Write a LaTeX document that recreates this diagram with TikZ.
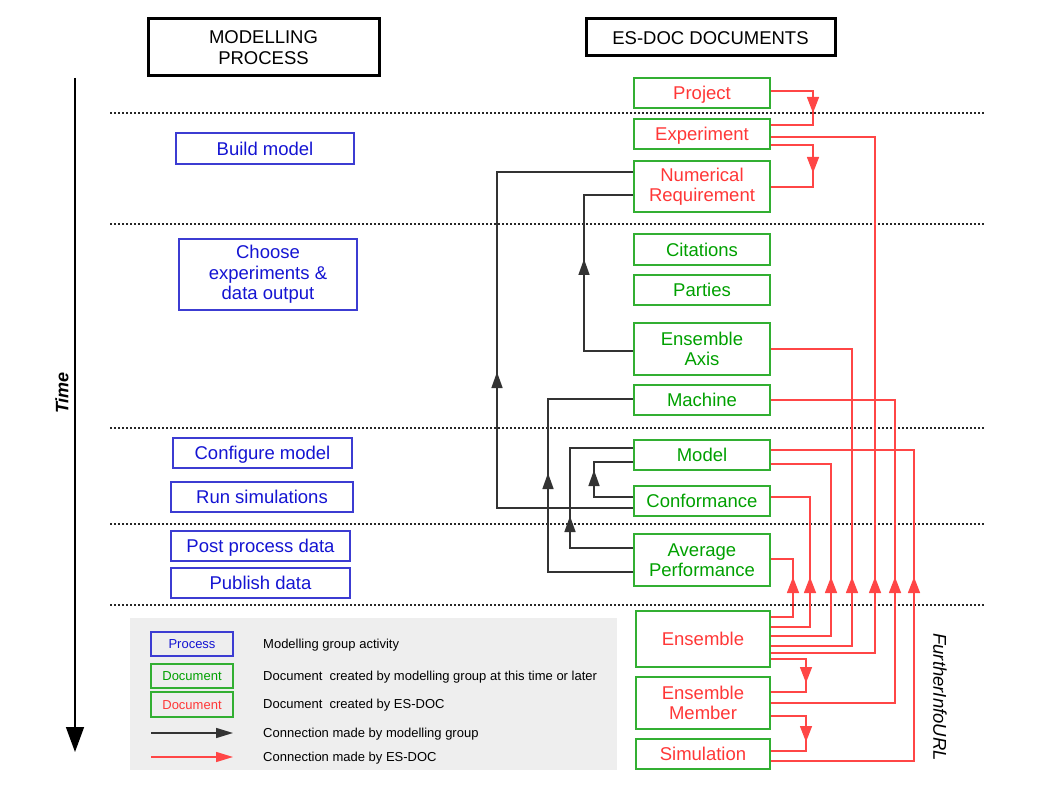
\documentclass[tikz,border=0pt]{standalone}
\usepackage{fontspec}
\setmainfont{Liberation Sans}
\usetikzlibrary{arrows.meta}
\definecolor{procblue}{RGB}{20,20,210}
\definecolor{procborder}{RGB}{60,60,210}
\definecolor{docgreen}{RGB}{0,160,0}
\definecolor{docborder}{RGB}{50,175,50}
\definecolor{docred}{RGB}{255,55,55}
\definecolor{linered}{RGB}{255,70,70}
\definecolor{legendgray}{RGB}{238,238,238}
\begin{document}
\begin{tikzpicture}[x=1pt,y=-1pt,
  bigfont/.style={font=\fontsize{18.5}{20.5}\selectfont},
  smallfont/.style={font=\fontsize{13}{15}\selectfont},
  oneline/.style={text height=13.3pt,text depth=0pt},
  smallline/.style={text height=9.4pt,text depth=0pt},
  titlebox/.style={draw=black,line width=3pt,inner sep=0pt,align=center,bigfont},
  procbox/.style={draw=procborder,line width=1.3pt,inner sep=0pt,align=center,text=procblue,bigfont},
  docbox/.style={draw=docborder,line width=1.5pt,inner sep=0pt,align=center,text=docgreen,bigfont,minimum width=136pt},
  esbox/.style={docbox,text=docred},
  redc/.style={draw=linered,line width=1.4pt},
  blackc/.style={draw=black!80,line width=1.4pt},
  redtip/.style={redc,-{Triangle[width=12pt,length=16pt]}},
  blacktip/.style={blackc,-{Triangle[width=11pt,length=16pt]}},
  sep/.style={draw=black!85,line width=1.1pt,dash pattern=on 2pt off 2pt},
  legtext/.style={smallfont,anchor=west,inner sep=0pt}
]
\useasboundingbox (0,0) rectangle (1058,794);

% titles
\node[titlebox,minimum width=231pt,minimum height=57pt] (tproc) at (263.5,47.5) {MODELLING\\PROCESS};
\node[titlebox,oneline,minimum width=249pt,minimum height=37pt] (tdoc) at (710.5,37.5) {ES-DOC DOCUMENTS};

% time axis
\coordinate (tstart) at (75,78);
\coordinate (tend) at (75,752);
\draw[line width=1.5pt,-{Triangle[width=18pt,length=25pt]}] (tstart) -- (tend);
\node[rotate=90,font=\fontsize{18}{20}\selectfont\bfseries\itshape] (time) at (62,393) {Time};

% separators
\foreach \yy in {113,224,428,524,605}
  \draw[sep] (110,\yy) -- (985,\yy);

% process boxes
\node[procbox,oneline,minimum width=178pt,minimum height=31pt] (build) at (265,148.5) {Build model};
\node[procbox,minimum width=178pt,minimum height=71pt] (choose) at (268,274.5) {Choose\\experiments \&\\data output};
\node[procbox,oneline,minimum width=179pt,minimum height=30pt] (config) at (262.5,453) {Configure model};
\node[procbox,oneline,minimum width=182pt,minimum height=30pt] (run) at (262,497) {Run simulations};
\node[procbox,oneline,minimum width=179pt,minimum height=30pt] (post) at (260.5,546) {Post process data};
\node[procbox,oneline,minimum width=179pt,minimum height=30pt] (publish) at (260.5,583) {Publish data};

% document boxes
\node[esbox,oneline,minimum height=30pt] (project) at (702,93) {Project};
\node[esbox,oneline,minimum height=30pt] (experiment) at (702,134) {Experiment};
\node[esbox,minimum height=51pt] (numreq) at (702,186.5) {Numerical\\Requirement};
\node[docbox,oneline,minimum height=31pt] (citations) at (702,249.5) {Citations};
\node[docbox,oneline,minimum height=30pt] (parties) at (702,290) {Parties};
\node[docbox,minimum height=52pt] (ensaxis) at (702,349) {Ensemble\\Axis};
\node[docbox,oneline,minimum height=30pt] (machine) at (702,400) {Machine};
\node[docbox,oneline,minimum height=30pt] (model) at (702,455) {Model};
\node[docbox,oneline,minimum height=30pt] (conformance) at (702,501) {Conformance};
\node[docbox,minimum height=52pt] (avgperf) at (702,560) {Average\\Performance};
\node[esbox,oneline,minimum width=134pt,minimum height=56pt] (ensemble) at (703,639) {Ensemble};
\node[esbox,minimum width=134pt,minimum height=52pt] (member) at (703,703) {Ensemble\\Member};
\node[esbox,oneline,minimum width=134pt,minimum height=30pt] (simulation) at (703,754) {Simulation};

% red connectors (ES-DOC)
\draw[redc] (project.east |- 0,91) -| (813,125) -- (experiment.east |- 0,125);
\draw[redtip] (813,97) -- (813,113);
\draw[redc] (experiment.east |- 0,145) -| (813,187) -- (numreq.east |- 0,187);
\draw[redtip] (813,157) -- (813,173);
\draw[redc] (ensemble.east |- 0,617) -| (793,559) -- (avgperf.east |- 0,559);
\draw[redc] (ensemble.east |- 0,627) -| (810,497) -- (conformance.east |- 0,497);
\draw[redc] (ensemble.east |- 0,636) -| (831,464) -- (model.east |- 0,464);
\draw[redc] (ensemble.east |- 0,646) -| (852,349) -- (ensaxis.east |- 0,349);
\draw[redc] (ensemble.east |- 0,653) -| (875,137) -- (experiment.east |- 0,137);
\draw[redc] (member.east |- 0,703) -| (895,400) -- (machine.east |- 0,400);
\draw[redc] (simulation.east |- 0,761) -| (914,450) -- (model.east |- 0,450);
\foreach \xx in {793,810,831,852,875,895,914}
  \draw[redtip] (\xx,593) -- (\xx,577);
\draw[redc] (ensemble.east |- 0,659) -| (806,692) -- (member.east |- 0,692);
\draw[redtip] (806,667) -- (806,683);
\draw[redc] (member.east |- 0,716) -| (806,751) -- (simulation.east |- 0,751);
\draw[redtip] (806,726) -- (806,742);

% black connectors (modelling group)
\draw[blackc] (conformance.west |- 0,508) -| (497,172) -- (numreq.west |- 0,172);
\draw[blacktip] (497,388) -- (497,372);
\draw[blackc] (ensaxis.west |- 0,351) -| (584,195) -- (numreq.west |- 0,195);
\draw[blacktip] (584,275) -- (584,259);
\draw[blackc] (avgperf.west |- 0,572) -| (548,399) -- (machine.west |- 0,399);
\draw[blacktip] (548,489) -- (548,473);
\draw[blackc] (avgperf.west |- 0,548) -| (570,448) -- (model.west |- 0,448);
\draw[blacktip] (570,532) -- (570,516);
\draw[blackc] (conformance.west |- 0,497) -| (594,462) -- (model.west |- 0,462);
\draw[blacktip] (594,486) -- (594,470);

% FurtherInfoURL
\node[rotate=-90,font=\fontsize{18.5}{20}\selectfont\itshape] (finfo) at (940,697) {FurtherInfoURL};

% legend
\fill[legendgray] (130,618) rectangle (617,770);
\node[procbox,smallfont,smallline,minimum width=82pt,minimum height=24pt] (lproc) at (192,644) {Process};
\node[docbox,smallfont,smallline,minimum width=82pt,minimum height=24pt] (ldocg) at (192,676) {Document};
\node[esbox,smallfont,smallline,minimum width=82pt,minimum height=25pt] (ldocr) at (192,704.5) {Document};
\coordinate (lba) at (151,733);
\coordinate (lbb) at (233,733);
\coordinate (lra) at (151,757);
\coordinate (lrb) at (233,757);
\draw[blackc,-{Triangle[width=10pt,length=17pt]}] (lba) -- (lbb);
\draw[redc,-{Triangle[width=10pt,length=17pt]}] (lra) -- (lrb);
\node[legtext,smallline] (t1) at (263,644) {Modelling group activity};
\node[legtext,smallline] (t2) at (263,676) {Document\ \ created by modelling group at this time or later};
\node[legtext,smallline] (t3) at (263,704) {Document\ \ created by ES-DOC};
\node[legtext,smallline] (t4) at (263,733) {Connection made by modelling group};
\node[legtext,smallline] (t5) at (263,757) {Connection made by ES-DOC};
\end{tikzpicture}
\end{document}
